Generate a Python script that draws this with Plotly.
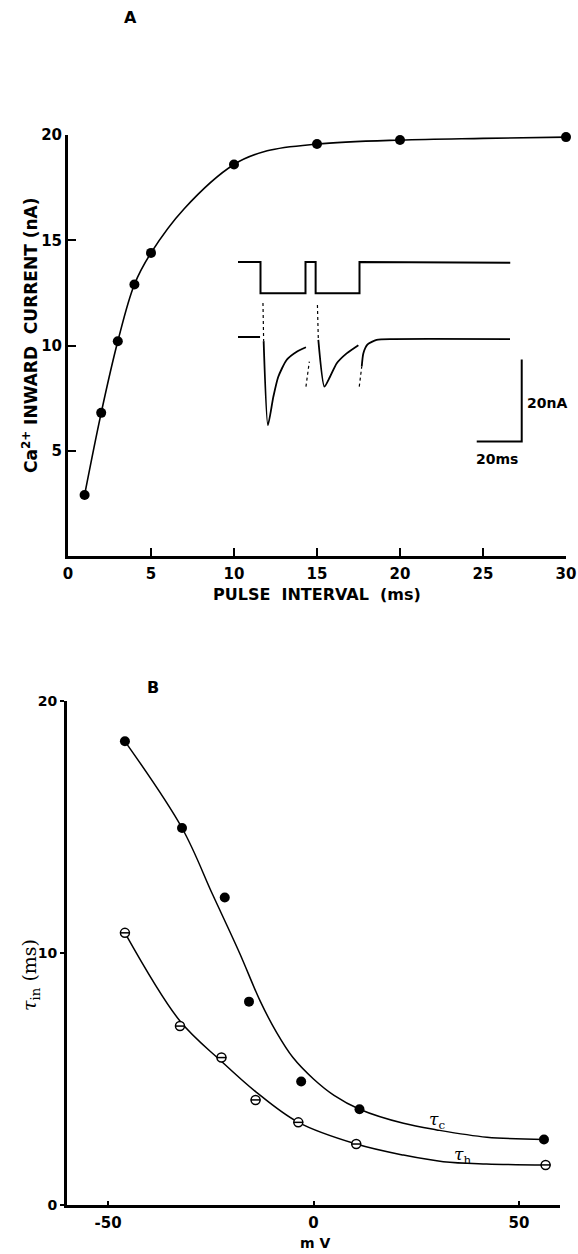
import plotly.graph_objects as go

W, H = 578, 1254

# ---------------- Panel A data ----------------
interval_ms = [1, 2, 3, 4, 5, 10, 15, 20, 30]
ca_current_nA = [2.9, 6.8, 10.2, 12.9, 14.4, 18.6, 19.57, 19.76, 19.9]
# fitted curve
fitA_x = [1, 2, 3, 4, 5, 7, 10, 12, 15, 20, 25, 30]
fitA_y = [2.9, 6.8, 10.2, 12.9, 14.4, 16.5, 18.6, 19.25, 19.57, 19.76, 19.84, 19.9]
A_xticks = [0, 5, 10, 15, 20, 25, 30]
A_yticks = [5, 10, 15, 20]

# ---------------- Inset (ms / nA) ----------------
volt_x = [0, 10, 10, 30, 30, 34.5, 34.5, 54, 54, 121]
volt_y = [18.3, 18.3, 10.7, 10.7, 18.3, 18.3, 10.7, 10.7, 18.3, 18.1]
base_x = [0, 9.8]
base_y = [0, 0]
art1_x = [11.1, 11.4]
art1_y = [8.3, -1.0]
cur1_x = [11.4, 13.3, 15.7, 17.9, 21.6, 26.1, 30.2]
cur1_y = [-1.0, -21.5, -14.6, -9.7, -5.6, -3.6, -2.5]
gap1_x = [30.2, 31.7]
gap1_y = [-12.1, -6.0]
art2_x = [35.3, 35.7]
art2_y = [7.8, -0.7]
cur2_x = [35.7, 38.4, 40.9, 43.9, 48.3, 53.5]
cur2_y = [-0.7, -12.1, -9.7, -6.4, -4.0, -2.0]
gap2_x = [53.9, 55.0]
gap2_y = [-12.1, -7.2]
cur3_x = [55.0, 55.7, 57.6, 61.6, 69.0, 120.9]
cur3_y = [-7.2, -4.0, -1.8, -0.7, -0.5, -0.5]
scalebar_x = [106.1, 126.1, 126.1]
scalebar_y = [-25.5, -25.5, -5.5]

# ---------------- Panel B data ----------------
mv_c = [-45.9, -32.0, -21.6, -15.7, -3.0, 11.2, 56.1]
tau_c = [18.4, 14.96, 12.2, 8.07, 4.9, 3.8, 2.6]
mv_h = [-45.9, -32.5, -22.4, -14.1, -3.7, 10.4, 56.5]
tau_h = [10.8, 7.1, 5.85, 4.17, 3.28, 2.42, 1.59]
fitC_x = [-45.9, -32.0, -24.5, -18.0, -13.0, -9.0, -5.0, 0.0, 5.0, 11.2, 21.9, 30.0, 42.2, 56.1]
fitC_y = [18.4, 14.96, 12.3, 10.0, 8.1, 6.85, 5.85, 5.0, 4.35, 3.8, 3.24, 2.98, 2.69, 2.6]
fitH_x = [-45.9, -32.5, -22.4, -14.1, -3.7, 10.4, 21.9, 31.6, 42.1, 56.5]
fitH_y = [10.8, 7.3, 5.7, 4.5, 3.28, 2.42, 1.98, 1.72, 1.63, 1.59]
B_xticks = [-50, 0, 50]
B_yticks = [0, 10, 20]

FONT = "DejaVu Sans"
BLACK = "black"


def px(x):
    return x / W


def py(y):
    return 1 - y / H


fig = go.Figure()

# Panel A
fig.add_trace(go.Scatter(x=fitA_x, y=fitA_y, mode="lines",
                         line=dict(color=BLACK, width=1.6, shape="spline", smoothing=1.0),
                         xaxis="x", yaxis="y", hoverinfo="skip", showlegend=False, cliponaxis=False))
fig.add_trace(go.Scatter(x=interval_ms, y=ca_current_nA, mode="markers", marker=dict(color=BLACK, size=10),
                         xaxis="x", yaxis="y", showlegend=False, cliponaxis=False))


# Inset
def inset_line(x, y, dash="solid", width=1.6):
    fig.add_trace(go.Scatter(x=x, y=y, mode="lines",
                             line=dict(color=BLACK, width=width, dash=dash, shape="spline", smoothing=0.6),
                             xaxis="x3", yaxis="y3", hoverinfo="skip", showlegend=False, cliponaxis=False))


fig.add_trace(go.Scatter(x=volt_x, y=volt_y, mode="lines", line=dict(color=BLACK, width=2),
                         xaxis="x3", yaxis="y3", hoverinfo="skip", showlegend=False, cliponaxis=False))
inset_line(base_x, base_y, width=1.8)
inset_line(art1_x, art1_y, dash="dot", width=1.2)
inset_line(cur1_x, cur1_y, width=1.8)
inset_line(gap1_x, gap1_y, dash="dot", width=1.2)
inset_line(art2_x, art2_y, dash="dot", width=1.2)
inset_line(cur2_x, cur2_y, width=1.8)
inset_line(gap2_x, gap2_y, dash="dot", width=1.2)
inset_line(cur3_x, cur3_y, width=1.8)
fig.add_trace(go.Scatter(x=scalebar_x, y=scalebar_y, mode="lines", line=dict(color=BLACK, width=2),
                         xaxis="x3", yaxis="y3", hoverinfo="skip", showlegend=False, cliponaxis=False))

# Panel B
fig.add_trace(go.Scatter(x=fitC_x, y=fitC_y, mode="lines",
                         line=dict(color=BLACK, width=1.5, shape="spline", smoothing=1.0),
                         xaxis="x2", yaxis="y2", hoverinfo="skip", showlegend=False, cliponaxis=False))
fig.add_trace(go.Scatter(x=fitH_x, y=fitH_y, mode="lines",
                         line=dict(color=BLACK, width=1.5, shape="spline", smoothing=1.0),
                         xaxis="x2", yaxis="y2", hoverinfo="skip", showlegend=False, cliponaxis=False))
fig.add_trace(go.Scatter(x=mv_c, y=tau_c, mode="markers", marker=dict(color=BLACK, size=10),
                         xaxis="x2", yaxis="y2", showlegend=False, cliponaxis=False))
fig.add_trace(go.Scatter(x=mv_h, y=tau_h, mode="markers",
                         marker=dict(color="white", size=9, symbol="circle", line=dict(color=BLACK, width=1.5)),
                         xaxis="x2", yaxis="y2", showlegend=False, cliponaxis=False))
fig.add_trace(go.Scatter(x=mv_h, y=tau_h, mode="markers",
                         marker=dict(color=BLACK, size=7, symbol="line-ew", line=dict(color=BLACK, width=1.5)),
                         xaxis="x2", yaxis="y2", showlegend=False, cliponaxis=False, hoverinfo="skip"))

tickfont = dict(family=FONT, size=15, color=BLACK, weight="bold")

fig.update_layout(
    width=W, height=H,
    margin=dict(l=0, r=0, t=0, b=0, autoexpand=False),
    paper_bgcolor="white", plot_bgcolor="white",
    font=dict(family=FONT, color=BLACK),
    xaxis=dict(domain=[px(68), px(566)], range=[0, 30], showline=True, linewidth=3, linecolor=BLACK,
               ticks="inside", ticklen=8, tickwidth=2, tickcolor=BLACK, tickvals=A_xticks,
               showgrid=False, zeroline=False, tickfont=tickfont, anchor="y", ticklabelstandoff=2,
               automargin=False),
    yaxis=dict(domain=[py(556), py(135)], range=[0, 20], showline=True, linewidth=3, linecolor=BLACK,
               ticks="inside", ticklen=8, tickwidth=2, tickcolor=BLACK, tickvals=A_yticks,
               showgrid=False, zeroline=False, tickfont=tickfont, anchor="x", automargin=False),
    xaxis3=dict(domain=[px(229), px(575.5)], range=[-4, 150], visible=False, anchor="y3"),
    yaxis3=dict(domain=[py(472.3), py(255)], range=[-33, 20], visible=False, anchor="x3"),
    xaxis2=dict(domain=[px(67), px(560)], range=[-60, 60], showline=True, linewidth=3, linecolor=BLACK,
                ticks="inside", ticklen=4, tickwidth=2, tickcolor=BLACK, tickvals=B_xticks,
                ticktext=["-50", "0", "50"],
                showgrid=False, zeroline=False, tickfont=tickfont, anchor="y2", ticklabelstandoff=2,
                automargin=False),
    yaxis2=dict(domain=[py(1205), py(701)], range=[0, 20], showline=True, linewidth=3, linecolor=BLACK,
                ticks="outside", ticklen=4, tickwidth=2, tickcolor=BLACK, tickvals=B_yticks,
                showgrid=False, zeroline=False, tickfont=dict(family=FONT, size=14, color=BLACK, weight="bold"),
                anchor="x2", automargin=False),
)

ann = []


def A(text, x, y, size=14, angle=0, bold=True, xanchor="center", xref="paper", yref="paper", family=FONT):
    ann.append(dict(text=text, x=x, y=y, xref=xref, yref=yref, showarrow=False, textangle=angle,
                    xanchor=xanchor, yanchor="middle",
                    font=dict(family=family, size=size, color=BLACK, weight="bold" if bold else "normal")))


NB = "\u00a0"
A("A", px(130), py(18), size=16)
A("B", px(153), py(687), size=16)
A("Ca<sup>2+</sup>" + NB + "INWARD" + NB * 2 + "CURRENT" + NB + "(nA)", px(30), py(336), size=17, angle=-90)
A("PULSE" + NB * 2 + "INTERVAL" + NB * 2 + "(ms)", px(317), py(595), size=16)
A("20nA", 127.5, -16.1, size=14, xanchor="left", xref="x3", yref="y3")
A("20ms", 115.1, -29.8, size=14, xref="x3", yref="y3")
A("<i>τ</i><sub>in</sub> (ms)", px(30), py(975), size=19, angle=-90, bold=False, family="DejaVu Serif")
A("m V", px(315), py(1243), size=14)
A("<i>τ</i><sub>c</sub>", px(437), py(1120), size=17, bold=False, family="DejaVu Serif")
A("<i>τ</i><sub>h</sub>", px(463), py(1155), size=17, bold=False, family="DejaVu Serif")

fig.update_layout(annotations=ann)

fig.write_html(
    "out.html",
    config={"displayModeBar": False},
    post_script="document.body.style.margin='0';document.body.style.padding='0';"
                "document.documentElement.style.overflow='hidden';",
)
